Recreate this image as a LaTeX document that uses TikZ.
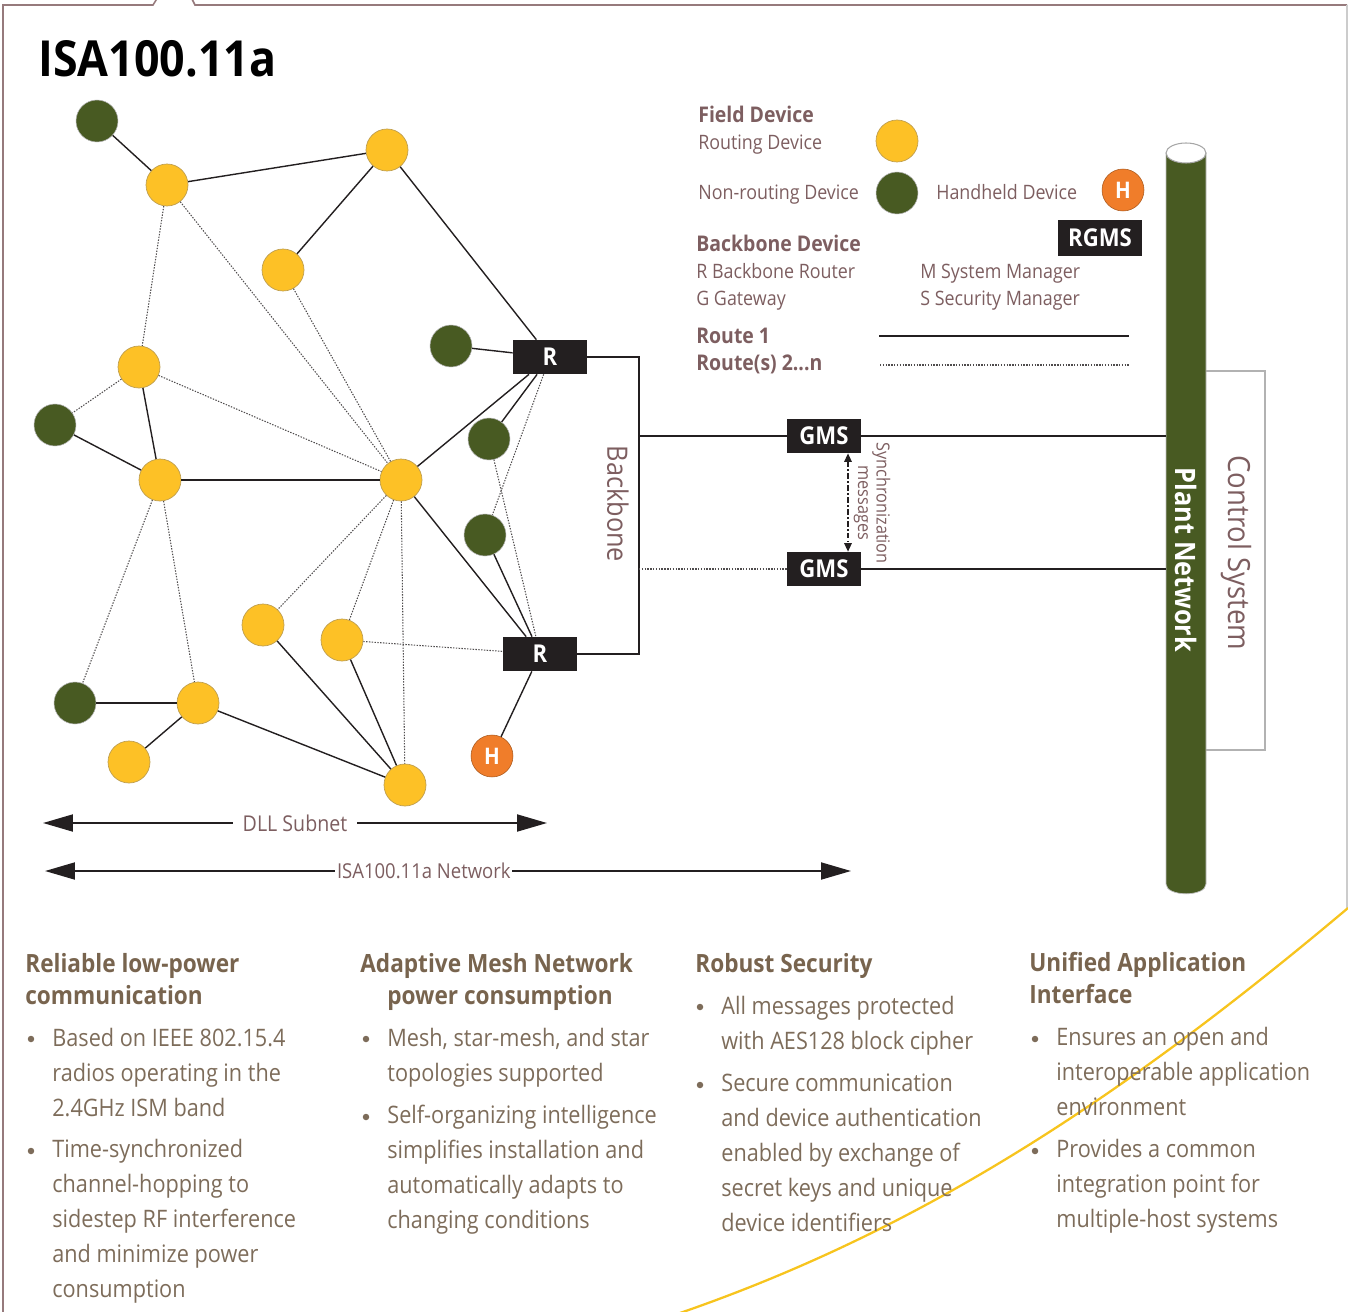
\documentclass[tikz,border=0pt]{standalone}
\usepackage{fontspec}
\setmainfont{Open Sans}[FakeStretch=0.9]
\usepackage{xcolor}
\usepackage{tikz}
\usetikzlibrary{arrows.meta,positioning,calc}

\definecolor{devyellow}{RGB}{253,193,38}
\definecolor{devyellowline}{RGB}{190,158,80}
\definecolor{devgreen}{RGB}{72,90,34}
\definecolor{devorange}{RGB}{240,125,42}
\definecolor{boxblack}{RGB}{35,31,32}
\definecolor{txtmauve}{RGB}{125,94,96}
\definecolor{txtbrown}{RGB}{125,108,90}
\definecolor{headbrown}{RGB}{120,100,78}
\definecolor{framemauve}{RGB}{150,122,124}
\definecolor{curveyellow}{RGB}{247,196,30}

\begin{document}
\begin{tikzpicture}[x=0.02cm, y=-0.02cm,
  routing/.style={circle, fill=devyellow, draw=devyellowline, line width=0.4pt, minimum size=0.84cm, inner sep=0pt},
  nonrouting/.style={circle, fill=devgreen, draw=gray!60, line width=0.3pt, minimum size=0.84cm, inner sep=0pt},
  handheld/.style={circle, fill=devorange, draw=devorange!70!black, line width=0.3pt, minimum size=0.84cm, inner sep=0pt, text=white, font=\fontsize{13}{15}\selectfont\bfseries},
  bbbox/.style={fill=boxblack, text=white, minimum width=1.48cm, minimum height=0.68cm, inner sep=0pt, font=\fontsize{14}{16}\selectfont\bfseries},
  link/.style={line width=0.8pt, draw=boxblack},
  thicklink/.style={line width=1.4pt, draw=boxblack},
  wlink/.style={line width=0.6pt, draw=boxblack!80, dash pattern=on 0.8pt off 0.8pt},
  lgbold/.style={anchor=base west, text=txtmauve, inner sep=0pt, font=\fontsize{12.3}{14}\selectfont\bfseries},
  lgtext/.style={anchor=base west, text=txtmauve, inner sep=0pt, font=\fontsize{11.3}{13}\selectfont},
  head/.style={anchor=base west, align=left, text=headbrown, inner sep=0pt, font=\fontsize{14.3}{18.1}\selectfont\bfseries},
  body/.style={anchor=base west, align=left, text=txtbrown, inner sep=0pt, font=\fontsize{13.7}{19.84}\selectfont},
  bul/.style={circle, fill=txtbrown, minimum size=0.13cm, inner sep=0pt},
  bigarrow/.style={line width=1.1pt, draw=boxblack, {Triangle[length=0.6cm, width=0.34cm]}-{Triangle[length=0.6cm, width=0.34cm]}}]
\useasboundingbox (0,0) rectangle (1348,1311);

% frame and swoosh
\draw[framemauve, line width=0.9pt] (3,1315) -- (3,5) -- (153,5) -- (158,-3);
\draw[framemauve, line width=0.9pt] (191,-3) -- (195,5) -- (1347,5);
\draw[gray!40, line width=0.8pt] (1347,5) -- (1347,908);
\draw[curveyellow, line width=1.3pt] (1348,908) .. controls (1120,1100) and (920,1230) .. (680,1313);

\node[anchor=base west, inner sep=0pt, font=\fontsize{28.3}{30}\selectfont\bfseries] (title) at (38,77) {ISA100.11a};

% field devices
\node[nonrouting] (g1) at (97,121) {};
\node[nonrouting] (g2) at (451,346) {};
\node[nonrouting] (g3) at (55,425) {};
\node[nonrouting] (g4) at (489,439) {};
\node[nonrouting] (g5) at (485,535) {};
\node[nonrouting] (g6) at (75,703) {};
\node[routing] (y1) at (167,185) {};
\node[routing] (y2) at (387,150) {};
\node[routing] (y3) at (283,270) {};
\node[routing] (y4) at (139,367) {};
\node[routing] (y5) at (160,480) {};
\node[routing] (y6) at (401,480) {};
\node[routing] (y7) at (263,625) {};
\node[routing] (y8) at (342,640) {};
\node[routing] (y9) at (198,703) {};
\node[routing] (y10) at (129,762) {};
\node[routing] (y11) at (405,785) {};
\node[handheld] (h1) at (492,756) {H};
\node[bbbox] (r1) at (550,357) {R};
\node[bbbox] (r2) at (540,654) {R};

% routes
\foreach \a/\b in {g1/y1, y1/y2, y2/y3, y2/r1, g2/r1, y6/r1, g4/r1, y4/y5, g3/y5,
                   y6/r2, g5/r2, r2/h1, y7/y11, y8/y11, y9/y10, y9/y11}
  \draw[link] (\a) -- (\b);
\foreach \a/\b in {y5/y6, g6/y9}
  \draw[thicklink] (\a) -- (\b);
\foreach \a/\b in {y1/y4, y1/y6, y3/y6, y4/g3, y4/y6, y5/g6, y5/y9, y6/y7, y6/y8,
                   y6/y11, y8/r2, r1/g5, g4/r2}
  \draw[wlink] (\a) -- (\b);

% backbone
\coordinate (bb) at (639,500);
\draw[link] (r1.east) -- (r1.east -| bb) -- (r2.east -| bb) -- (r2.east);
\node[rotate=-90, text=txtmauve, font=\fontsize{16}{18}\selectfont] (bblabel) at (618,504) {Backbone};

\node[bbbox] (gms1) at (824,436) {GMS};
\node[bbbox] (gms2) at (824,569) {GMS};
\draw[link] (gms1.west -| bb) -- (gms1.west);
\draw[wlink] (gms2.west -| bb) -- (gms2.west);
\coordinate (syncx) at (848,500);
\draw[line width=0.8pt, boxblack, dash pattern=on 3pt off 1.5pt on 0.8pt off 1.5pt,
      {Triangle[length=0.17cm, width=0.15cm]}-{Triangle[length=0.17cm, width=0.15cm]}]
      (gms1.south -| syncx) -- (gms2.north -| syncx);
\node[rotate=-90, text=txtmauve, inner sep=0pt, align=center, font=\fontsize{10.3}{10.5}\selectfont] (sync) at (872,503) {Synchronization\\messages};

% plant network and control system
\draw[gray!60, line width=0.6pt] (1206,371) -- (1265,371) -- (1265,750) -- (1206,750);
\fill[devgreen, draw=gray!50, line width=0.4pt] (1166,153) -- (1166,884) .. controls (1166,897) and (1206,897) .. (1206,884) -- (1206,153) -- cycle;
\draw[gray!70, fill=white, line width=0.6pt] (1186,153) ellipse [x radius=0.4cm, y radius=0.2cm];
\coordinate (plantL) at (1166,500);
\draw[link] (gms1.east) -- (gms1.east -| plantL);
\draw[link] (gms2.east) -- (gms2.east -| plantL);
\node[rotate=-90, text=white, font=\fontsize{16}{18}\selectfont\bfseries] (plant) at (1186,560) {Plant Network};
\node[rotate=-90, text=txtmauve, font=\fontsize{17.4}{19}\selectfont] (ctrl) at (1236,553) {Control System};

% legend
\node[lgbold] (lgfield) at (698,123) {Field Device};
\node[lgtext] (lgrout) at (698,150) {Routing Device};
\node[routing] (lgy) at (897,141) {};
\node[lgtext] (lgnon) at (698,200) {Non-routing Device};
\node[nonrouting] (lgg) at (897,193) {};
\node[lgtext] (lghand) at (936,200) {Handheld Device};
\node[handheld] (lgh) at (1123,190) {H};
\node[bbbox, minimum width=1.68cm, minimum height=0.72cm] (lgrgms) at (1100,238) {RGMS};
\node[lgbold] (lgbb) at (696,252) {Backbone Device};
\node[lgtext] (lgr) at (696,278) {R Backbone Router};
\node[lgtext] (lgg2) at (696,305) {G Gateway};
\node[lgtext] (lgm) at (920,278) {M System Manager};
\node[lgtext] (lgs) at (920,305) {S Security Manager};
\node[lgbold] (lgroute) at (696,343) {Route 1};
\node[lgbold] (lgroutes) at (696,370) {Route(s) 2...n};
\coordinate (rt1a) at (879,336);
\coordinate (rt1b) at (1129,336);
\coordinate (rt2a) at (880,365);
\coordinate (rt2b) at (1129,365);
\draw[link] (rt1a) -- (rt1b);
\draw[wlink] (rt2a) -- (rt2b);

% extent arrows
\coordinate (dllL) at (43,823);
\coordinate (dllR) at (547,823);
\draw[bigarrow] (dllL) -- node[fill=white, inner xsep=0.2cm, text=txtmauve, font=\fontsize{12.4}{14}\selectfont] (dll) {DLL Subnet} (dllR);
\coordinate (isaL) at (45,871);
\coordinate (isaR) at (851,871);
\draw[bigarrow] (isaL) -- node[pos=0.47, fill=white, inner xsep=1pt, inner ysep=1pt, text=txtmauve, font=\fontsize{11.7}{13}\selectfont] (isa) {ISA100.11a Network} (isaR);

% feature columns (base = last line)
\node[head] (h1a) at (25,1004) {Reliable low-power\\communication};
\node[bul] (b1a) at (31,1039) {};
\node[body] (t1a) at (52,1116) {Based on IEEE 802.15.4\\radios operating in the\\2.4GHz ISM band};
\node[bul] (b1b) at (31,1151) {};
\node[body] (t1b) at (52,1297) {Time-synchronized\\channel-hopping to\\sidestep RF interference\\and minimize power\\consumption};

\node[head] (h2a) at (360,1004) {Adaptive Mesh Network\\\hspace*{0.54cm}power consumption};
\node[bul] (b2a) at (366,1039) {};
\node[body] (t2a) at (387,1081) {Mesh, star-mesh, and star\\topologies supported};
\node[bul] (b2b) at (366,1117) {};
\node[body] (t2b) at (387,1228) {Self-organizing intelligence\\simplifies installation and\\automatically adapts to\\changing conditions};

\node[head] (h3a) at (695,972) {Robust Security};
\node[bul] (b3a) at (700,1007) {};
\node[body] (t3a) at (721,1049) {All messages protected\\with AES128 block cipher};
\node[bul] (b3b) at (700,1085) {};
\node[body] (t3b) at (721,1231) {Secure communication\\and device authentication\\enabled by exchange of\\secret keys and unique\\device identifiers};

\node[head] (h4a) at (1029,1003) {Unified Application\\Interface};
\node[bul] (b4a) at (1035,1039) {};
\node[body] (t4a) at (1056,1115) {Ensures an open and\\interoperable application\\environment};
\node[bul] (b4b) at (1035,1151) {};
\node[body] (t4b) at (1056,1227) {Provides a common\\integration point for\\multiple-host systems};
\end{tikzpicture}
\end{document}
